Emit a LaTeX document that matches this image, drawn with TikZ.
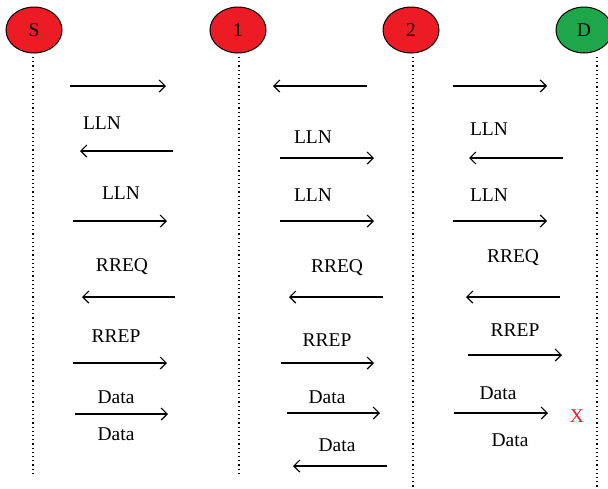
\documentclass[tikz,border=0pt]{standalone}
\usepackage{fontspec}
\setmainfont{Liberation Serif}
\usetikzlibrary{arrows.meta}
\usetikzlibrary{shapes.geometric}

\definecolor{nodered}{HTML}{ED1C24}
\definecolor{nodegreen}{HTML}{1DA64A}

\tikzset{
  station/.style={draw,ellipse,line width=1pt,minimum width=56pt,minimum height=46pt,inner sep=0pt},
  lifeline/.style={line width=1.2pt,dash pattern=on 1.2pt off 3pt},
  msg/.style={line width=1.2pt,-{Straight Barb[length=6pt,width=12pt]}},
  lab/.style={inner sep=0pt}
}

\begin{document}
\begin{tikzpicture}[x=1pt,y=-1pt,font=\fontsize{19.5}{22}\selectfont]

  \useasboundingbox (0,0) rectangle (608,488);

  % stations
  \node [station,fill=nodered]   (nS) at (34,30)  {S};
  \node [station,fill=nodered]   (n1) at (238,30) {1};
  \node [station,fill=nodered]   (n2) at (411,30) {2};
  \node [station,fill=nodegreen] (nD) at (584,30) {D};

  % time lines
  \foreach \n/\x/\yb in {S/33/474, 1/239/474, 2/413/488, D/597/488} {
    \coordinate (\n top) at (\x,57);
    \coordinate (\n bot) at (\x,\yb);
    \draw [lifeline] (\n top) -- (\n bot);
  }

  % messages: name/from/to/height
  \foreach \n/\xa/\xb/\y in {
      a1/70/166/86,  a2/173/80/151,  a3/73/167/221,
      a4/175/82/297, a5/73/167/363,  a6/75/168/414,
      b1/367/273/86, b2/280/374/158, b3/280/374/221,
      b4/383/289/297, b5/281/374/363, b6/287/380/413, b7/387/293/466,
      c1/453/547/86, c2/563/469/158, c3/453/547/221,
      c4/560/466/297, c5/468/562/355, c6/454/548/413} {
    \coordinate (\n s) at (\xa,\y);
    \coordinate (\n e) at (\xb,\y);
    \draw [msg] (\n s) -- (\n e);
  }

  % labels
  \node [lab] (la2)  at (102,123) {LLN};
  \node [lab] (la3)  at (121,193) {LLN};
  \node [lab] (la4)  at (122,267) {RREQ};
  \node [lab] (la5)  at (116,336) {RREP};
  \node [lab] (la6)  at (116,397) {Data};
  \node [lab] (la6b) at (116,434) {Data};

  \node [lab] (lb2) at (313,137) {LLN};
  \node [lab] (lb3) at (313,195) {LLN};
  \node [lab] (lb4) at (337,268) {RREQ};
  \node [lab] (lb5) at (327,340) {RREP};
  \node [lab] (lb6) at (327,397) {Data};
  \node [lab] (lb7) at (337,445) {Data};

  \node [lab] (lc2)  at (489,129) {LLN};
  \node [lab] (lc3)  at (489,195) {LLN};
  \node [lab] (lc4)  at (513,258) {RREQ};
  \node [lab] (lc5)  at (515,330) {RREP};
  \node [lab] (lc6)  at (498,393) {Data};
  \node [lab] (lc6b) at (510,440) {Data};

  % broken link
  \node [lab,text=nodered] (lost) at (577,416) {X};

\end{tikzpicture}
\end{document}
